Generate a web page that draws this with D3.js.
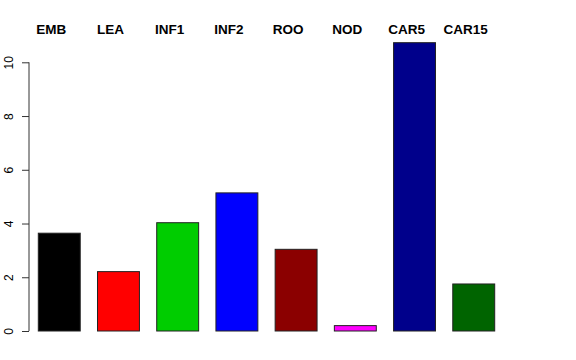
<!DOCTYPE html>
<html>
<head>
<meta charset="utf-8">
<script src="https://cdn.jsdelivr.net/npm/d3@7"></script>
<style>
  body { margin: 0; background: #fff; }
  text { font-family: "Liberation Sans", Arial, sans-serif; }
</style>
</head>
<body>
<script>
    // data
    var categories = ['EMB', 'LEA', 'INF1', 'INF2', 'ROO', 'NOD', 'CAR5', 'CAR15'];
    var values = [3.64, 2.21, 4.03, 5.14, 3.04, 0.2, 10.73, 1.75];
    var colors = ['#000000', '#ff0000', '#00cd00', '#0000ff', '#8b0000', '#ff00ff', '#00008b', '#006400'];
    var yTicks = [0, 2, 4, 6, 8, 10];

    var width = 576;
    var height = 360;

    var svg = d3.select('body')
        .append('svg')
        .attr('width', width)
        .attr('height', height);

    // scales
    var xScale = d3.scaleBand()
        .domain(categories)
        .range([38.3, 494.7])
        .paddingInner(0.292)
        .paddingOuter(0);

    var yScale = d3.scaleLinear()
        .domain([0, 10])
        .range([331, 62.3]);

    // y axis, R style
    var yAxis = d3.axisLeft(yScale)
        .tickValues(yTicks)
        .tickSize(7)
        .tickPadding(0)
        .tickFormat(d3.format('d'));

    var gy = svg.append('g')
        .attr('transform', 'translate(29,0)')
        .call(yAxis);

    gy.select('.domain')
        .attr('d', 'M0,' + yScale(0) + 'V' + yScale(10))
        .attr('stroke', '#333');
    gy.selectAll('.tick line').attr('stroke', '#333');
    gy.selectAll('.tick text')
        .attr('x', null)
        .attr('dy', null)
        .attr('transform', 'translate(-16.5,0) rotate(-90)')
        .attr('text-anchor', 'middle')
        .attr('fill', '#000')
        .style('font-size', '12px');

    // bars
    svg.selectAll('rect.bar')
        .data(values)
        .enter()
        .append('rect')
        .attr('class', 'bar')
        .attr('x', (d, i) => xScale(categories[i]))
        .attr('width', xScale.bandwidth())
        .attr('y', d => yScale(d))
        .attr('height', d => yScale(0) - yScale(d))
        .attr('fill', (d, i) => colors[i])
        .attr('stroke', '#222')
        .attr('stroke-width', 1);

    // labels on top
    svg.selectAll('text.lab')
        .data(categories)
        .enter()
        .append('text')
        .attr('class', 'lab')
        .attr('x', d => xScale(d) + xScale.bandwidth() / 2 - 8)
        .attr('y', 34)
        .attr('text-anchor', 'middle')
        .style('font-size', '13.5px')
        .style('font-weight', 'bold')
        .text(d => d);
</script>
</body>
</html>
